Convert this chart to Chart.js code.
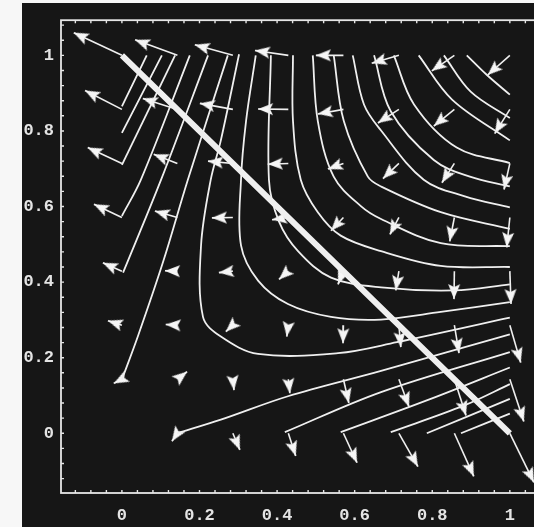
<!DOCTYPE html>
<html lang="en">
<head>
  <meta charset="UTF-8" />
  <title>Phase portrait</title>
  <script src="https://cdn.jsdelivr.net/npm/chart.js"></script>
  <style>
    html, body {
      margin: 0;
      padding: 0;
      background: #f7f7f7;
      overflow: hidden;
    }
    #wrap {
      position: absolute;
      left: 22px;
      top: 3px;
      width: 524px;
      height: 524px;
      background: #161616;
    }
  </style>
</head>
<body>
  <div id="wrap"><canvas id="plot"></canvas></div>

  <script>
    // axis ticks
    const xTickValues = [0, 0.2, 0.4, 0.6, 0.8, 1];
    const xTickLabels = ['0', '0.2', '0.4', '0.6', '0.8', '1'];
    const yTickValues = [0, 0.2, 0.4, 0.6, 0.8, 1];
    const yTickLabels = ['0', '0.2', '0.4', '0.6', '0.8', '1'];
    const minorTicks = [-0.12, -0.08, -0.04, 0, 0.04, 0.08, 0.12, 0.16, 0.2, 0.24, 0.28, 0.32,
      0.36, 0.4, 0.44, 0.48, 0.52, 0.56, 0.6, 0.64, 0.68, 0.72, 0.76, 0.8, 0.84, 0.88, 0.92,
      0.96, 1, 1.04, 1.08];

    // arrow grid (rows from top y=1 down to y=0)
    const gridX = [0, 0.143, 0.286, 0.429, 0.571, 0.714, 0.857, 1];
    const gridY = [1, 0.857, 0.714, 0.571, 0.429, 0.286, 0.143, 0];

    // arrow tips, same layout as the grid
    const tipX = [
      [-0.124, 0.034, 0.188, 0.343, 0.500, 0.644, 0.799, 0.943],
      [-0.095, 0.054, 0.201, 0.351, 0.505, 0.660, 0.804, 0.961],
      [-0.088, 0.082, 0.222, 0.376, 0.531, 0.673, 0.825, 0.985],
      [-0.072, 0.085, 0.232, 0.387, 0.539, 0.691, 0.845, 0.992],
      [-0.049, 0.111, 0.250, 0.405, 0.557, 0.706, 0.856, 1.003],
      [-0.036, 0.113, 0.268, 0.425, 0.570, 0.719, 0.869, 1.028],
      [-0.021, 0.168, 0.289, 0.433, 0.585, 0.740, 0.887, 1.036],
      [null, 0.129, 0.304, 0.448, 0.606, 0.763, 0.907, 1.062]
    ];
    const tipY = [
      [1.060, 1.041, 1.028, 1.013, 1.000, 0.979, 0.959, 0.948],
      [0.907, 0.886, 0.873, 0.858, 0.845, 0.821, 0.813, 0.793],
      [0.756, 0.738, 0.720, 0.712, 0.699, 0.674, 0.663, 0.645],
      [0.606, 0.588, 0.570, 0.565, 0.536, 0.526, 0.508, 0.492],
      [0.451, 0.430, 0.425, 0.407, 0.394, 0.378, 0.355, 0.342],
      [0.298, 0.288, 0.269, 0.256, 0.238, 0.228, 0.212, 0.187],
      [0.132, 0.163, 0.114, 0.106, 0.080, 0.070, 0.047, 0.031],
      [null, -0.021, -0.044, -0.060, -0.078, -0.088, -0.114, -0.130]
    ];

    // curves bending around the top right corner
    const cornerCurves = [
      [[0.302, 1.003], [0.255, 0.775], [0.229, 0.671], [0.204, 0.497], [0.209, 0.308], [0.255, 0.256], [0.351, 0.210], [0.557, 0.212], [0.709, 0.241], [1.0, 0.306]],
      [[0.345, 1.0], [0.320, 0.826], [0.307, 0.671], [0.307, 0.497], [0.351, 0.404], [0.428, 0.342], [0.539, 0.308], [0.668, 0.301], [0.822, 0.321], [1.0, 0.347]],
      [[0.384, 1.0], [0.379, 0.671], [0.405, 0.560], [0.454, 0.482], [0.539, 0.412], [0.668, 0.386], [0.856, 0.378], [1.0, 0.394]],
      [[0.441, 1.0], [0.441, 0.826], [0.461, 0.671], [0.505, 0.585], [0.564, 0.523], [0.668, 0.482], [0.822, 0.443], [1.0, 0.440]],
      [[0.492, 1.0], [0.505, 0.826], [0.546, 0.679], [0.616, 0.601], [0.668, 0.567], [0.822, 0.503], [1.0, 0.495]],
      [[0.546, 1.0], [0.572, 0.826], [0.634, 0.679], [0.668, 0.653], [0.822, 0.585], [1.0, 0.541]],
      [[0.595, 1.0], [0.624, 0.870], [0.668, 0.801], [0.778, 0.671], [0.884, 0.627], [1.0, 0.598]],
      [[0.650, 1.0], [0.693, 0.852], [0.804, 0.723], [0.897, 0.679], [1.0, 0.653]],
      [[0.701, 1.0], [0.753, 0.870], [0.863, 0.756], [1.0, 0.715]],
      [[0.765, 1.0], [0.851, 0.883], [1.0, 0.775]],
      [[0.830, 1.0], [0.899, 0.904], [1.0, 0.834]],
      [[0.889, 1.0], [0.941, 0.948], [1.0, 0.896]]
    ];

    // steep lines in the upper left
    const leftLines = [
      [[0.064, 1.0], [0, 0.865]],
      [[0.103, 1.0], [0, 0.795]],
      [[0.137, 1.0], [0, 0.710]],
      [[0.175, 1.0], [0.049, 0.671], [0, 0.575]],
      [[0.222, 1.0], [0.101, 0.671], [0.003, 0.425]],
      [[0.273, 1.0], [0.170, 0.671], [0.106, 0.453], [0.041, 0.256], [0, 0.142]]
    ];

    // shallow lines in the lower right
    const lowerLines = [
      [[0.142, 0], [0.255, 0.036], [0.428, 0.098], [0.668, 0.165], [1.0, 0.262]],
      [[0.420, 0.003], [0.668, 0.109], [1.0, 0.215]],
      [[0.564, 0.003], [0.796, 0.091], [1.0, 0.174]],
      [[0.693, 0.003], [0.881, 0.073], [1.0, 0.130]],
      [[0.786, 0], [1.0, 0.091]],
      [[0.874, 0], [1.0, 0.052]]
    ];

    const diagonal = [[0, 1], [1, 0]];

    const lineColor = '#efefef';

    // arrow head image: tip in the centre, pointing up
    function makeHead() {
      const c = document.createElement('canvas');
      c.width = 36;
      c.height = 36;
      const g = c.getContext('2d');
      g.fillStyle = '#f6f6f6';
      g.beginPath();
      g.moveTo(18, 18);
      g.lineTo(24, 33);
      g.lineTo(18, 30);
      g.lineTo(12, 33);
      g.closePath();
      g.fill();
      return c;
    }
    const head = makeHead();

    const datasets = [];

    function addCurve(pts, width) {
      datasets.push({
        data: pts.map(p => ({ x: p[0], y: p[1] })),
        showLine: true,
        borderColor: lineColor,
        borderWidth: width,
        pointRadius: 0,
        tension: 0.35,
        fill: false
      });
    }

    cornerCurves.forEach(c => addCurve(c, 1.8));
    leftLines.forEach(c => addCurve(c, 1.8));
    lowerLines.forEach(c => addCurve(c, 1.8));
    addCurve(diagonal, 6);

    gridY.forEach((gy, j) => {
      gridX.forEach((gx, i) => {
        const tx = tipX[j][i];
        const ty = tipY[j][i];
        if (tx === null) return;
        const ang = Math.atan2(tx - gx, ty - gy) * 180 / Math.PI;
        datasets.push({
          data: [{ x: gx, y: gy }, { x: tx, y: ty }],
          showLine: true,
          borderColor: lineColor,
          borderWidth: 1.6,
          pointRadius: [0, 6],
          pointStyle: head,
          pointRotation: [0, ang],
          fill: false
        });
      });
    });

    const framePlugin = {
      id: 'frame',
      afterDraw(chart) {
        const { ctx, chartArea: a } = chart;
        const xs = chart.scales.x;
        const ys = chart.scales.y;
        ctx.save();
        ctx.strokeStyle = '#e6e6e6';
        ctx.lineWidth = 1.8;
        ctx.strokeRect(a.left, a.top, a.right - a.left, a.bottom - a.top);
        ctx.lineWidth = 1.4;
        ctx.beginPath();
        minorTicks.forEach(v => {
          const px = xs.getPixelForValue(v);
          if (px > a.left + 2 && px < a.right - 2) {
            ctx.moveTo(px, a.bottom);
            ctx.lineTo(px, a.bottom - 3);
            ctx.moveTo(px, a.top);
            ctx.lineTo(px, a.top + 3);
          }
          const py = ys.getPixelForValue(v);
          if (py > a.top + 2 && py < a.bottom - 2) {
            ctx.moveTo(a.left, py);
            ctx.lineTo(a.left + 3, py);
          }
        });
        ctx.stroke();
        ctx.restore();
      }
    };

    const tickFont = { family: 'Liberation Mono', size: 17, weight: 'bold' };

    const chart = new Chart(document.getElementById('plot').getContext('2d'), {
      type: 'scatter',
      data: { datasets: datasets },
      options: {
        responsive: true,
        maintainAspectRatio: false,
        animation: false,
        events: [],
        layout: { padding: { top: 7, right: 9, left: 0, bottom: 0 } },
        plugins: {
          legend: { display: false },
          tooltip: { enabled: false }
        },
        scales: {
          x: {
            type: 'linear',
            min: -0.157,
            max: 1.07,
            bounds: 'data',
            grid: { display: false, drawTicks: false },
            border: { display: false },
            afterBuildTicks: s => { s.ticks = xTickValues.map(v => ({ value: v })); },
            afterFit: s => { s.height = 34; },
            ticks: {
              callback: (v, i) => xTickLabels[i],
              color: '#e4e4e4',
              font: tickFont,
              padding: 13,
              maxRotation: 0,
              autoSkip: false
            }
          },
          y: {
            type: 'linear',
            min: -0.158,
            max: 1.093,
            bounds: 'data',
            grid: { display: false, drawTicks: false },
            border: { display: false },
            afterBuildTicks: s => { s.ticks = yTickValues.map(v => ({ value: v })); },
            afterFit: s => { s.width = 39; },
            ticks: {
              callback: (v, i) => yTickLabels[i],
              color: '#e4e4e4',
              font: tickFont,
              padding: 7,
              autoSkip: false
            }
          }
        }
      },
      plugins: [framePlugin]
    });
  </script>
</body>
</html>
